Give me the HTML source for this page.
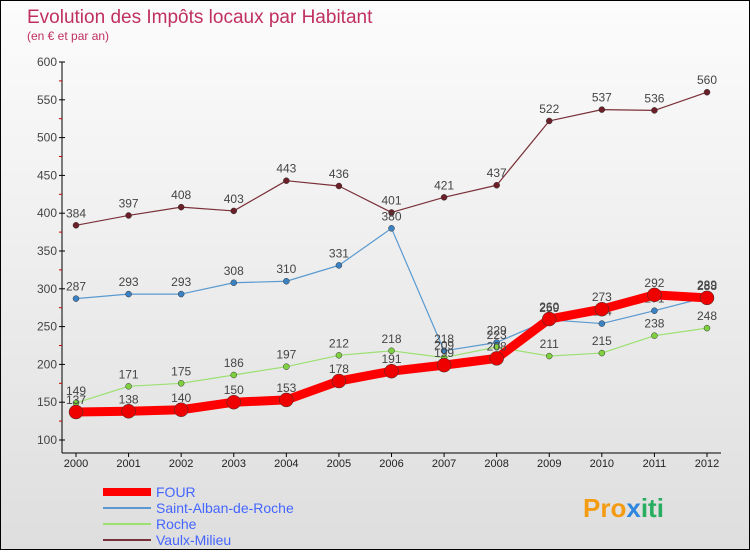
<!DOCTYPE html>
<html><head><meta charset="utf-8"><style>
body{margin:0;width:750px;height:550px;overflow:hidden;font-family:"Liberation Sans",sans-serif}
#c{position:absolute;left:0;top:0;width:748px;height:548px;border:1px solid #000;background:linear-gradient(#fcfcfc,#dedede)}
</style></head><body>
<div id="c">
<svg id="s" width="750" height="550">
<text x="26" y="22" font-size="19" fill="#c0305f">Evolution des Impôts locaux par Habitant</text>
<text x="26" y="39" font-size="12" fill="#c0305f">(en € et par an)</text>
<g id="axes"></g><g id="plot"></g><g id="legend"></g>
<text x="582" y="516" font-size="26" font-weight="bold" fill="#f39c12">Pro<tspan fill="#2e86de">x</tspan><tspan fill="#27ae60">iti</tspan></text>
</svg></div>
<script>
const years=[2000,2001,2002,2003,2004,2005,2006,2007,2008,2009,2010,2011,2012];
const four=[137,138,140,150,153,178,191,199,208,260,273,292,288];
const stAlban=[287,293,293,308,310,331,380,218,229,259,254,271,289];
const roche=[149,171,175,186,197,212,218,209,223,211,215,238,248];
const vaulx=[384,397,408,403,443,436,401,421,437,522,537,536,560];
const yTicks=[100,150,200,250,300,350,400,450,500,550,600];
const seriesNames=["FOUR","Saint-Alban-de-Roche","Roche","Vaulx-Milieu"];
const NS="http://www.w3.org/2000/svg";
const X=i=>75+i*(706-75)/12, Y=v=>439-(v-100)*(439-61)/500;
function mk(p,t,a){const e=document.createElementNS(NS,t);for(const k in a)e.setAttribute(k,a[k]);p.appendChild(e);return e;}
const ax=document.getElementById('axes'),pl=document.getElementById('plot'),lg=document.getElementById('legend');
let e=mk(ax,'line',{x1:61,y1:61,x2:61,y2:452,stroke:'#000'});

e=mk(ax,'line',{x1:61,y1:452,x2:720,y2:452,stroke:'#000'});

yTicks.forEach((v,i)=>{mk(ax,'line',{x1:58,x2:64,y1:Y(v),y2:Y(v),stroke:'#000'});
 if(i<yTicks.length-1)mk(ax,'line',{x1:58,x2:61,y1:Y(v+25),y2:Y(v+25),stroke:'#c00'});
 const t=mk(ax,'text',{x:56,y:Y(v)+4,'font-size':12,fill:'#444','text-anchor':'end'});t.textContent=v;
 });
years.forEach((y,i)=>{mk(ax,'line',{x1:X(i),x2:X(i),y1:452,y2:456,stroke:'#000'});
 const t=mk(ax,'text',{x:X(i),y:466,'font-size':11,fill:'#222','text-anchor':'middle'});t.textContent=y;
 });
function draw(d,col,w,r,name,dot){
 const g=mk(pl,'g',{});
 mk(g,'polyline',{points:d.map((v,i)=>X(i)+','+Y(v)).join(' '),fill:'none',stroke:col,'stroke-width':w,'stroke-linejoin':'round'});
 d.forEach((v,i)=>{const c=mk(g,'circle',{cx:X(i),cy:Y(v),r:r,fill:dot,stroke:'#333','stroke-width':0.5});
  
  const t=mk(g,'text',{x:X(i),y:Y(v)-8,'font-size':12,fill:'#444','text-anchor':'middle'});t.textContent=v;});
}
draw(vaulx,'#7a3038',1.2,3,'vaulx-series','#6b1f28');
draw(stAlban,'#5a9ad0',1.2,3,'saint-alban-series','#3b82c4');
draw(roche,'#9be070',1.2,3,'roche-series','#7ed040');
draw(four,'#ff0000',9,7,'four-series','#ee0000');
const cols=['#ff0000','#5a9ad0','#9be070','#7a3038'],ws=[8,2,2,2];
seriesNames.forEach((n,i)=>{const y=491+i*16;
 const g=mk(lg,'g',{});
 mk(g,'line',{x1:102,x2:150,y1:y,y2:y,stroke:cols[i],'stroke-width':ws[i]});
 const t=mk(g,'text',{x:155,y:y+5,'font-size':14,fill:'#4466ff'});t.textContent=n;});
</script></body></html>
